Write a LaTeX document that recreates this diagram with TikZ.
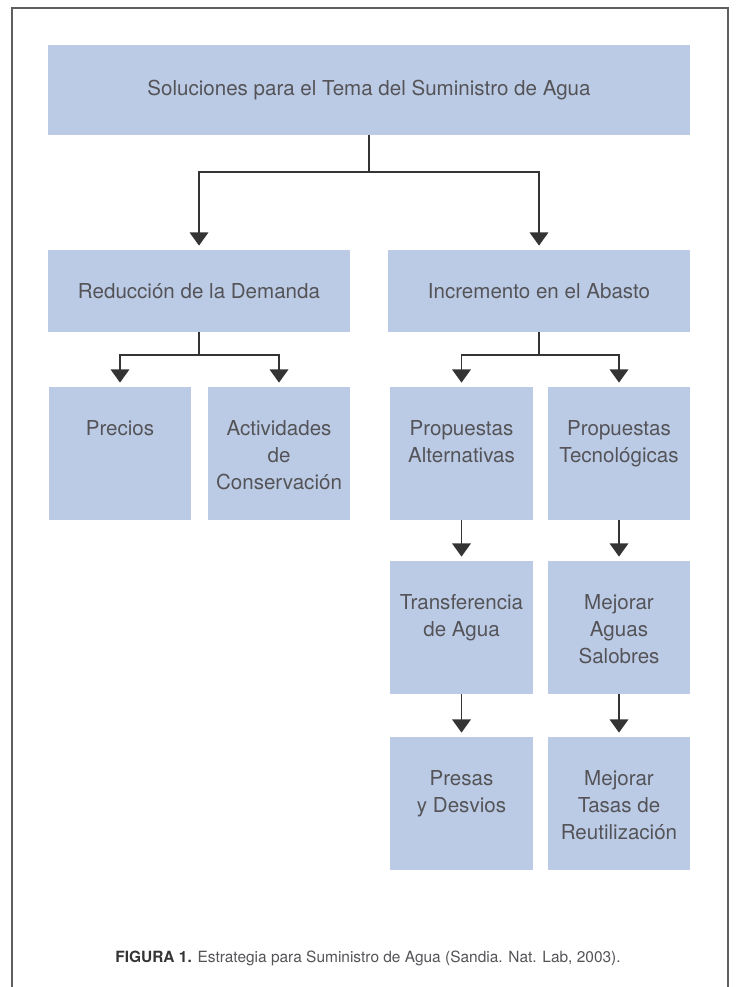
\documentclass[tikz,border=0pt]{standalone}
\usepackage{fontspec}
\setmainfont{TeX Gyre Heros}
\usepackage{tikz}
\usetikzlibrary{arrows.meta, positioning}
\definecolor{boxblue}{RGB}{188,203,229}
\definecolor{txtgray}{RGB}{84,84,88}
\definecolor{arrowgray}{RGB}{52,52,52}
\definecolor{framegray}{RGB}{95,95,95}

\begin{document}
\begin{tikzpicture}[x=0.02cm, y=-0.02cm,
	box/.style={rectangle, fill=boxblue, inner sep=0pt, text=txtgray, font=\fontsize{11.7}{15.3}\selectfont},
	tallbox/.style={box, execute at begin node={\begin{minipage}[c][2.66cm][t]{2.86cm}\centering\rule{0pt}{27.5pt}}, execute at end node={\end{minipage}}},
	link/.style={draw=arrowgray, line width=1.1pt},
	flow/.style={link, -{Triangle[width=10.5pt,length=7.5pt]}, shorten >=2.3pt}]
	% page size and frame
	\useasboundingbox (0,0) rectangle (735,987);
	\draw[framegray, line width=0.6pt] (12,987) -- (12,8) -- (728,8) -- (728,987);
	% boxes
	\node[box, minimum width=12.84cm, minimum height=1.8cm] (sol) at (369,90) {Soluciones para el Tema del Suministro de Agua};
	\node[box, minimum width=6.04cm, minimum height=1.64cm] (reduc) at (199,291) {Reducción de la Demanda};
	\node[box, minimum width=6.04cm, minimum height=1.64cm] (incr) at (539,291) {Incremento en el Abasto};
	\node[tallbox] (precios) at (120,453.5) {Precios};
	\node[tallbox] (activ) at (279,453.5) {Actividades\\de\\Conservación};
	\node[tallbox] (propalt) at (461.5,453.5) {Propuestas\\Alternativas};
	\node[tallbox] (proptec) at (619,453.5) {Propuestas\\Tecnológicas};
	\node[tallbox] (transf) at (461.5,627.5) {Transferencia\\de Agua};
	\node[tallbox] (salob) at (619,627.5) {Mejorar\\Aguas\\Salobres};
	\node[tallbox] (presas) at (461.5,803.5) {Presas\\y Desvios};
	\node[tallbox] (tasas) at (619,803.5) {Mejorar\\Tasas de\\Reutilización};
	% caption
	\node[text=txtgray, font=\fontsize{8.8}{10}\selectfont] (cap) at (368,958)
		{\textcolor{arrowgray}{\textbf{FIGURA 1.}} Estrategia para Suministro de Agua (Sandia. Nat. Lab, 2003).};
	% connectors
	\path (sol.south) ++(0,37) coordinate (j1);
	\path (reduc.south) ++(0,23) coordinate (j2);
	\path (incr.south) ++(0,23) coordinate (j3);
	\draw[link] (sol.south) -- (j1);
	\draw[flow] (j1) -| (reduc.north);
	\draw[flow] (j1) -| (incr.north);
	\draw[link] (reduc.south) -- (j2);
	\draw[flow] (j2) -| (precios.north);
	\draw[flow] (j2) -| (activ.north);
	\draw[link] (incr.south) -- (j3);
	\draw[flow] (j3) -| (propalt.north);
	\draw[flow] (j3) -| (proptec.north);
	\draw	(propalt) edge[flow] (transf)
			(proptec) edge[flow] (salob)
			(transf) edge[flow] (presas)
			(salob) edge[flow] (tasas);
\end{tikzpicture}
\end{document}
